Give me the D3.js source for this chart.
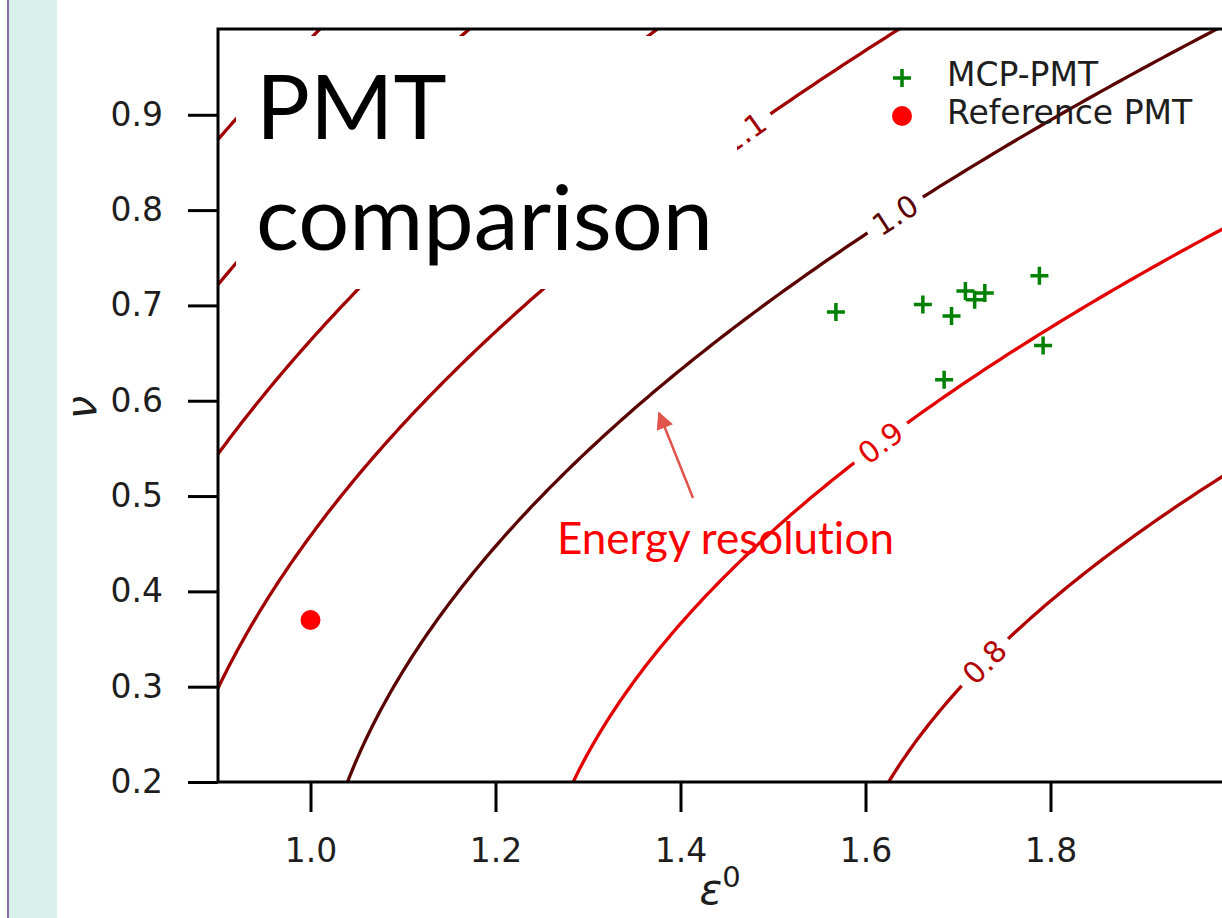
<!DOCTYPE html>
<html>
<head>
<meta charset="utf-8">
<script src="https://cdn.jsdelivr.net/npm/d3@7"></script>
<style>
  body { margin: 0; background: #fff; }
  svg { display: block; }
  text { font-variant-ligatures: none; }
</style>
</head>
<body>
<div id="chart"></div>
<script>
const width = 1222
const height = 918

// contour levels of the energy resolution sqrt((1 + nu^2) / eps)
const levels = [0.8, 0.9, 1.0, 1.1, 1.2, 1.3, 1.4]
const levelColors = ['#b00000', '#e20000', '#5a0202', '#a00000', '#a00000', '#a00000', '#a00000']
const labelLevels = [0.8, 0.9, 1.0, 1.1]
const labelNu = [0.326, 0.556, 0.795, 0.881]

// measured tubes
const mcpEps = [1.568, 1.662, 1.693, 1.685, 1.708, 1.718, 1.729, 1.788, 1.792]
const mcpNu = [0.693, 0.701, 0.689, 0.622, 0.715, 0.706, 0.713, 0.731, 0.658]
const refEps = [1.0]
const refNu = [0.370]

const xTicks = [1.0, 1.2, 1.4, 1.6, 1.8]
const yTicks = [0.2, 0.3, 0.4, 0.5, 0.6, 0.7, 0.8, 0.9]

const epsOf = (c, nu) => (1 + nu * nu) / (c * c)

const x = d3.scaleLinear().domain([0.9, 2.0]).range([218, 1235.5])
const y = d3.scaleLinear().domain([0.2, 0.99]).range([782, 29])

const svg = d3.select('#chart').append('svg')
  .attr('width', width)
  .attr('height', height)

// slide side strip
svg.append('rect').attr('x', 0).attr('y', 0).attr('width', 57).attr('height', height).attr('fill', '#d9efe9')
svg.append('rect').attr('x', 0).attr('y', 0).attr('width', 7).attr('height', height).attr('fill', '#fff')
svg.append('line').attr('x1', 8).attr('x2', 8).attr('y1', 0).attr('y2', height)
  .attr('stroke', '#6a3f8e').attr('stroke-width', 1.5)

svg.append('clipPath').attr('id', 'plot-clip')
  .append('rect')
    .attr('x', x(0.9)).attr('y', y(0.99))
    .attr('width', x(2.0) - x(0.9)).attr('height', y(0.2) - y(0.99))

const plot = svg.append('g').attr('clip-path', 'url(#plot-clip)')

// contour lines
const nus = d3.range(0.2, 1.0001, 0.004)
const line = d3.line()
  .x(d => x(d[0]))
  .y(d => y(d[1]))

plot.selectAll('.contour')
  .data(levels)
  .enter().append('path')
    .attr('class', 'contour')
    .attr('fill', 'none')
    .attr('stroke', (d, i) => levelColors[i])
    .attr('stroke-width', 3.3)
    .attr('d', c => line(nus.map(nu => [epsOf(c, nu), nu])))

// inline contour labels
const labels = plot.selectAll('.clabel')
  .data(labelLevels)
  .enter().append('g')
    .attr('class', 'clabel')
    .attr('transform', (c, i) => {
      const nu = labelNu[i]
      const h = 0.002
      const dx = x(epsOf(c, nu + h)) - x(epsOf(c, nu - h))
      const dy = y(nu + h) - y(nu - h)
      const angle = Math.atan2(dy, dx) * 180 / Math.PI
      return `translate(${x(epsOf(c, nu))},${y(nu)}) rotate(${angle})`
    })
labels.append('rect')
  .attr('x', -33).attr('y', -8)
  .attr('width', 66).attr('height', 16)
  .attr('fill', '#fff')
labels.append('text')
  .attr('text-anchor', 'middle')
  .attr('dy', '0.36em')
  .attr('font-family', 'DejaVu Sans')
  .attr('font-size', 30)
  .attr('fill', c => levelColors[levels.indexOf(c)])
  .text(c => d3.format('.1f')(c))

// MCP-PMT markers
const plus = (g, size) => g
  .attr('stroke', '#008000')
  .attr('stroke-width', 3.5)
  .attr('fill', 'none')
  .attr('d', `M${-size},0H${size}M0,${-size}V${size}`)

plot.selectAll('.mcp')
  .data(mcpEps)
  .enter().append('path')
    .attr('class', 'mcp')
    .attr('transform', (d, i) => `translate(${x(d)},${y(mcpNu[i])})`)
    .call(plus, 9)

plot.selectAll('.ref')
  .data(refEps)
  .enter().append('circle')
    .attr('class', 'ref')
    .attr('cx', d => x(d))
    .attr('cy', (d, i) => y(refNu[i]))
    .attr('r', 10)
    .attr('fill', '#ff0000')

// axes
const xAxis = svg.append('g')
  .attr('transform', `translate(0,${y(0.2)})`)
  .call(d3.axisBottom(x).tickValues(xTicks).tickFormat(d3.format('.1f'))
    .tickSize(30).tickSizeOuter(0).tickPadding(27))
const yAxis = svg.append('g')
  .attr('transform', `translate(${x(0.9)},0)`)
  .call(d3.axisLeft(y).tickValues(yTicks).tickFormat(d3.format('.1f'))
    .tickSize(30).tickSizeOuter(0).tickPadding(25))
;[xAxis, yAxis].forEach(a => {
  a.select('.domain').remove()
  a.selectAll('.tick line').attr('stroke', '#000').attr('stroke-width', 3)
  a.selectAll('.tick text')
    .attr('font-family', 'DejaVu Sans')
    .attr('font-size', 33)
    .attr('fill', '#1e1e1e')
})

svg.append('rect')
  .attr('x', x(0.9)).attr('y', y(0.99))
  .attr('width', x(2.0) - x(0.9)).attr('height', y(0.2) - y(0.99))
  .attr('fill', 'none')
  .attr('stroke', '#000')
  .attr('stroke-width', 3)

// axis titles
svg.append('text')
  .attr('transform', `translate(96,${(y(0.2) + y(0.99)) / 2 + 2}) rotate(-90)`)
  .attr('text-anchor', 'middle')
  .attr('font-family', 'DejaVu Sans')
  .attr('font-style', 'italic')
  .attr('font-size', 42)
  .attr('fill', '#1e1e1e')
  .text('ν')
const xTitle = svg.append('text')
  .attr('x', 720).attr('y', 904)
  .attr('text-anchor', 'middle')
  .attr('font-family', 'DejaVu Sans')
  .attr('fill', '#1e1e1e')
xTitle.append('tspan').attr('font-style', 'italic').attr('font-size', 42).text('ε')
xTitle.append('tspan').attr('font-size', 29).attr('dy', -17).text('0')

// legend
const legend = svg.append('g').attr('transform', 'translate(902,78)')
legend.append('path').call(plus, 9)
legend.append('circle').attr('cy', 38).attr('r', 10).attr('fill', '#ff0000')
legend.selectAll('text')
  .data(['MCP-PMT', 'Reference PMT'])
  .enter().append('text')
    .attr('x', 45)
    .attr('y', (d, i) => i * 38 + 8)
    .attr('font-family', 'DejaVu Sans')
    .attr('font-size', 33)
    .attr('fill', '#1e1e1e')
    .text(d => d)

// slide title box
svg.append('rect')
  .attr('x', 236).attr('y', 36)
  .attr('width', 501).attr('height', 253)
  .attr('fill', '#fff')
svg.append('text')
  .attr('font-family', 'Lato')
  .attr('font-size', 90)
  .attr('fill', '#000')
  .selectAll('tspan')
  .data(['PMT', 'comparison'])
  .enter().append('tspan')
    .attr('x', 256)
    .attr('y', (d, i) => 139 + i * 111)
    .text(d => d)

// annotation
svg.append('defs').append('marker')
  .attr('id', 'head')
  .attr('viewBox', '0 0 10 10')
  .attr('refX', 9).attr('refY', 5)
  .attr('markerWidth', 7).attr('markerHeight', 7)
  .attr('markerUnits', 'strokeWidth')
  .attr('orient', 'auto')
  .append('path')
    .attr('d', 'M0,0L10,5L0,10Z')
    .attr('fill', '#e0544c')
svg.append('line')
  .attr('x1', 693).attr('y1', 498)
  .attr('x2', 659).attr('y2', 413)
  .attr('stroke', '#e0544c')
  .attr('stroke-width', 2.5)
  .attr('marker-end', 'url(#head)')
svg.append('text')
  .attr('x', 557).attr('y', 554)
  .attr('font-family', 'Lato')
  .attr('font-size', 44)
  .attr('fill', '#ff0000')
  .text('Energy resolution')
</script>
</body>
</html>
